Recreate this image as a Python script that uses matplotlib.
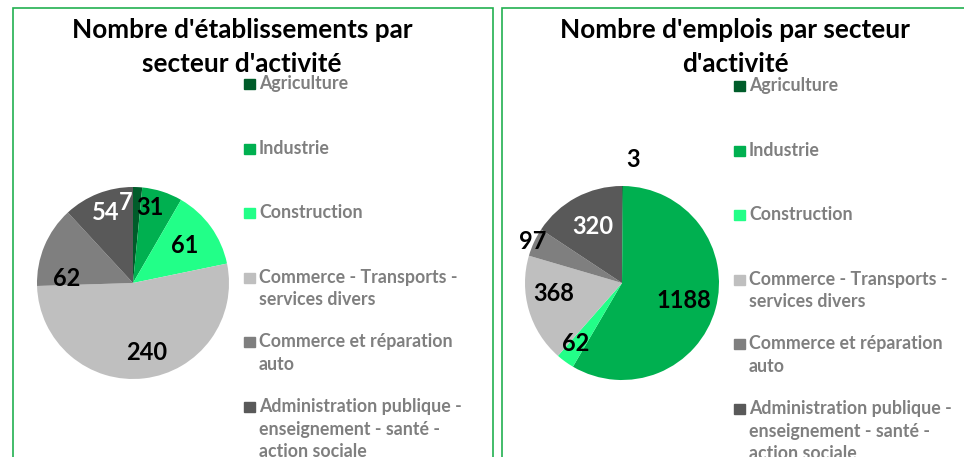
import matplotlib.pyplot as plt
from matplotlib.patches import Rectangle
import numpy as np

plt.rcParams['font.family'] = ['Lato', 'DejaVu Sans']

secteurs = ['Agriculture', 'Industrie', 'Construction',
            'Commerce - Transports -\nservices divers',
            'Commerce et réparation\nauto',
            'Administration publique -\nenseignement - santé -\naction sociale']
couleurs = ['#005C2A', '#00B050', '#22FF88', '#BFBFBF', '#7F7F7F', '#595959']

etablissements = [7, 31, 61, 240, 62, 54]
emplois = [3, 1188, 62, 368, 97, 320]

W, H = 964, 457


def fx(x):
    return x / W


def fy(y):
    return 1 - y / H


def lines(fig, x, y, txt, gap, **kw):
    # une ligne par appel pour caler chaque ligne de base
    for k, ln in enumerate(txt.split('\n')):
        fig.text(fx(x), fy(y + k * gap), ln, va='baseline', **kw)


def draw_pie(fig, rect, values, lbl_colors, lbl_dist, lbl_shift):
    ax = fig.add_axes(rect)
    wedges, _ = ax.pie(values, colors=couleurs, startangle=90, counterclock=False,
                       radius=1, wedgeprops=dict(linewidth=0))
    ax.set_xlim(-1, 1)
    ax.set_ylim(-1, 1)
    ax.set_aspect('equal')
    for w, v, c, d, s in zip(wedges, values, lbl_colors, lbl_dist, lbl_shift):
        ang = np.deg2rad((w.theta1 + w.theta2) / 2 + s)
        ax.text(d * np.cos(ang), d * np.sin(ang), str(v), color=c, fontsize=17,
                fontweight='bold', ha='center', va='center', clip_on=False)
    return ax


def draw_legend(fig, x, y0):
    step = 64.6
    for i, (lab, col) in enumerate(zip(secteurs, couleurs)):
        yb = y0 + i * step
        fig.patches.append(Rectangle((fx(x), fy(yb)), 10.5 / W, 10 / H,
                                     transform=fig.transFigure, color=col))
        lines(fig, x + 15, yb, lab, 22.7, fontsize=12.8, fontweight='bold',
              color='#7F7F7F', ha='left')


fig = plt.figure(figsize=(W / 100, H / 100), dpi=100)

# cadres verts
for x0, x1 in [(13, 493), (502, 980)]:
    fig.patches.append(Rectangle((fx(x0), fy(475)), (x1 - x0) / W, (475 - 8) / H,
                                 transform=fig.transFigure, fill=False,
                                 edgecolor='#22B050', linewidth=1.2))

lines(fig, 242, 38, "Nombre d'établissements par\nsecteur d'activité", 33.5,
      fontsize=18.8, fontweight='bold', ha='center')
lines(fig, 735, 38, "Nombre d'emplois par secteur\nd'activité", 33.5,
      fontsize=18.8, fontweight='bold', ha='center')

draw_pie(fig, [fx(37), fy(379), 192 / W, 192 / H], etablissements,
         ['white', 'black', 'black', 'black', 'black', 'white'],
         [0.84, 0.81, 0.67, 0.74, 0.69, 0.79], [8, 5, 0, 4, 19, 0])
draw_pie(fig, [fx(525), fy(380), 194 / W, 194 / H], emplois,
         ['black', 'black', 'black', 'black', 'black', 'white'],
         [1.28, 0.66, 0.78, 0.71, 1.02, 0.65], [-5, 0, -1.5, -7, 0, -1])

draw_legend(fig, 244, 89)
draw_legend(fig, 734, 91)

fig.savefig('out.png', dpi=100)
